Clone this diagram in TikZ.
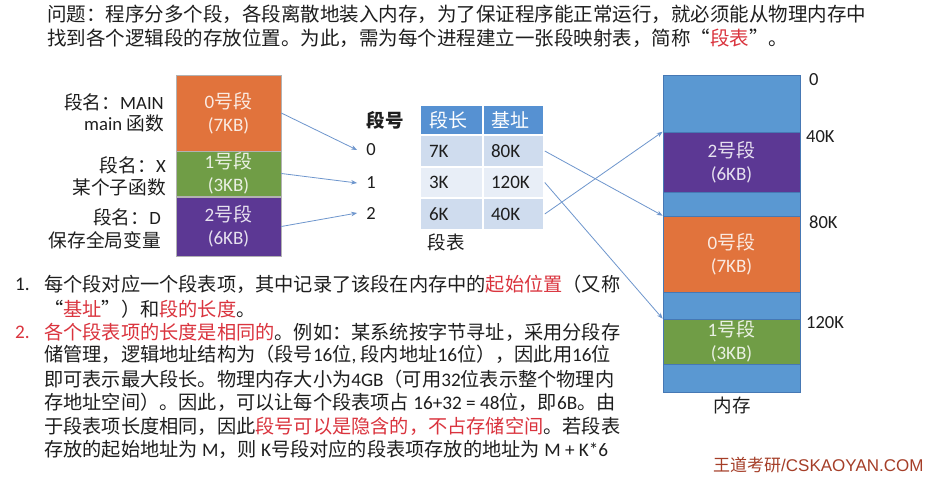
\documentclass[tikz,border=0pt]{standalone}
\usepackage{fontspec}
\setmainfont{Noto Sans CJK SC}
\newfontfamily\lat{Carlito}
\newfontfamily\arialf{Liberation Sans}
\usetikzlibrary{arrows.meta}
\definecolor{orng}{RGB}{225,115,60}
\definecolor{grn}{RGB}{112,157,70}
\definecolor{purp}{RGB}{92,56,148}
\definecolor{memblue}{RGB}{90,152,210}
\definecolor{memedge}{RGB}{70,120,180}
\definecolor{hdrblue}{RGB}{86,145,210}
\definecolor{rowdark}{RGB}{207,220,238}
\definecolor{rowlight}{RGB}{232,238,247}
\definecolor{arrowc}{RGB}{110,150,205}
\definecolor{myred}{RGB}{218,52,62}
\definecolor{txt}{RGB}{30,30,30}
\definecolor{wmark}{RGB}{165,62,40}
\newcommand\la[1]{{\lat #1}}
\newcommand\rd[1]{\textcolor{myred}{#1}}
\tikzset{
  toptext/.style={anchor=west, inner sep=0pt, text=txt, font=\fontsize{19.5}{24}\selectfont},
  bodytext/.style={anchor=west, inner sep=0pt, text=txt, font=\fontsize{19.2}{23}\selectfont},
  lbl/.style={anchor=east, inner sep=0pt, text=txt, font=\fontsize{18.7}{22}\selectfont},
  segbox/.style={draw=gray!60, line width=0.6pt, minimum width=105pt, inner sep=0pt, align=center, text=white, text opacity=0.85, font=\fontsize{19}{23}\selectfont},
  memseg/.style={draw=memedge, line width=0.6pt, minimum width=137pt, inner sep=0pt, align=center, text=white, text opacity=0.85, font=\fontsize{19}{23}\selectfont},
  cell/.style={draw=white, line width=1.5pt, inner ysep=0pt, text width=45pt, align=left, text=txt, font=\fontsize{19}{20}\selectfont},
  numlbl/.style={inner xsep=9pt, inner ysep=0pt, text=txt, font=\fontsize{18.5}{20}\selectfont},
  addr/.style={anchor=west, inner sep=0pt, text=txt, font=\fontsize{18.5}{20}\selectfont},
  link/.style={draw=arrowc, line width=0.8pt, -{Stealth[length=6pt,width=4.5pt]}}
}
\begin{document}
\begin{tikzpicture}[x=1pt,y=-1pt]
\useasboundingbox[fill=white] (0,0) rectangle (934,478);

% top text
\node[toptext] (t1) at (47,14) {问题：程序分多个段，各段离散地装入内存，为了保证程序能正常运行，就必须能从物理内存中};
\node[toptext] (t2) at (47,38) {找到各个逻辑段的存放位置。为此，需为每个进程建立一张段映射表，简称“\rd{段表}”。};

% logical segments
\node[segbox, fill=orng, minimum height=76pt] (s0) at (228.5,113) {\la{0}号段\\\la{(7KB)}};
\node[segbox, fill=grn, minimum height=45pt] (s1) at (228.5,173.5) {\la{1}号段\\\la{(3KB)}};
\node[segbox, fill=purp, minimum height=59pt] (s2) at (228.5,226.5) {\la{2}号段\\\la{(6KB)}};

\node[lbl] (l0a) at (164,102) {段名：\la{MAIN}};
\node[lbl] (l0b) at (164,123) {\la{main} 函数};
\node[lbl] (l1a) at (166,165) {段名：\la{X}};
\node[lbl] (l1b) at (166,187) {某个子函数};
\node[lbl] (l2a) at (161,217) {段名：\la{D}};
\node[lbl] (l2b) at (161,240) {保存全局变量};

% segment numbers
\node[text=txt, inner sep=0pt, font=\bfseries\fontsize{18.5}{20}\selectfont] (dh) at (385,120) {段号};
\node[numlbl] (n0) at (371,150) {\la{0}};
\node[numlbl] (n1) at (371,183) {\la{1}};
\node[numlbl] (n2) at (371,213) {\la{2}};

% segment table
\node[cell, fill=hdrblue, text=white, minimum height=30pt, inner xsep=9pt] (h1) at (451.5,120) {段长};
\node[cell, fill=hdrblue, text=white, minimum height=30pt, inner xsep=8pt] (h2) at (513.5,120) {基址};
\node[cell, fill=rowdark, minimum height=32pt, inner xsep=9pt] (a1) at (451.5,151) {\la{7K}};
\node[cell, fill=rowdark, minimum height=32pt, inner xsep=8pt] (a2) at (513.5,151) {\la{80K}};
\node[cell, fill=rowlight, minimum height=31pt, inner xsep=9pt] (b1) at (451.5,182.5) {\la{3K}};
\node[cell, fill=rowlight, minimum height=31pt, inner xsep=8pt] (b2) at (513.5,182.5) {\la{120K}};
\node[cell, fill=rowdark, minimum height=32pt, inner xsep=9pt] (c1) at (451.5,214) {\la{6K}};
\node[cell, fill=rowdark, minimum height=32pt, inner xsep=8pt] (c2) at (513.5,214) {\la{40K}};
\node[text=txt, inner sep=0pt, font=\fontsize{18.5}{20}\selectfont] (tbl) at (446,242) {段表};

% memory
\node[draw=memedge, line width=0.6pt, fill=memblue, minimum width=137pt, minimum height=317pt, inner sep=0pt] (mem) at (731.5,233.5) {};
\node[memseg, fill=purp, minimum height=60pt] (m2) at (731.5,162) {\la{2}号段\\\la{(6KB)}};
\node[memseg, fill=orng, minimum height=76pt] (m0) at (731.5,254) {\la{0}号段\\\la{(7KB)}};
\node[memseg, fill=grn, minimum height=45pt] (m1) at (731.5,341.5) {\la{1}号段\\\la{(3KB)}};
\node[text=txt, inner sep=0pt, font=\fontsize{18.5}{20}\selectfont] (memlbl) at (732,405) {内存};
\node[addr] (ad0) at (809,80) {\la{0}};
\node[addr] (ad40) at (806,137) {\la{40K}};
\node[addr] (ad80) at (809,222) {\la{80K}};
\node[addr] (ad120) at (806,323) {\la{120K}};

% connectors
\draw[link] (s0.east) -- (n0.west);
\draw[link] (s1.east) -- (n1.west);
\draw[link] (s2.east) -- (n2.west);
\draw[link] (a2.east) -- (m0.north west);
\draw[link] (b2.east) -- (m1.north west);
\draw[link] (c2.east) -- (m2.north west);

% bottom text
\node[bodytext] (k1) at (15,284) {\la{1.}};
\node[bodytext] (b1t) at (44,284) {每个段对应一个段表项，其中记录了该段在内存中的\rd{起始位置}（又称};
\node[bodytext] (b2t) at (44,309) {“\rd{基址}”）和\rd{段的长度}。};
\node[bodytext, text=myred] (k2) at (15,332) {\la{2.}};
\node[bodytext] (b3t) at (44,332) {\rd{各个段表项的长度是相同的}。例如：某系统按字节寻址，采用分段存};
\node[bodytext] (b4t) at (44,355) {储管理，逻辑地址结构为（段号\la{16}位\la{,} 段内地址\la{16}位），因此用\la{16}位};
\node[bodytext] (b5t) at (44,379) {即可表示最大段长。物理内存大小为\la{4GB}（可用\la{32}位表示整个物理内};
\node[bodytext] (b6t) at (44,402) {存地址空间）。因此，可以让每个段表项占 \la{16+32 = 48}位，即\la{6B}。由};
\node[bodytext] (b7t) at (44,426) {于段表项长度相同，因此\rd{段号可以是隐含的，不占存储空间}。若段表};
\node[bodytext] (b8t) at (44,449) {存放的起始地址为 \la{M}，则 \la{K}号段对应的段表项存放的地址为 \la{M + K*6}};

% watermark
\node[anchor=west, inner sep=0pt, text=wmark, font=\fontsize{17}{18}\selectfont] (wm) at (713,465) {王道考研\arialf{/CSKAOYAN.COM}};
\end{tikzpicture}
\end{document}
